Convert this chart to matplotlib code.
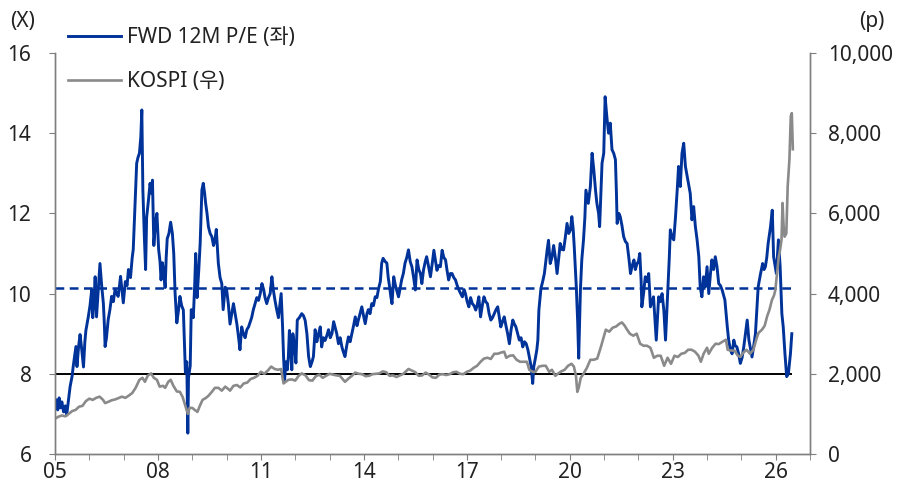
import matplotlib
matplotlib.use('Agg')
import matplotlib.pyplot as plt
from matplotlib.ticker import FixedLocator, FuncFormatter

plt.rcParams['font.family'] = ['Noto Sans', 'Noto Sans CJK KR', 'DejaVu Sans']

# FWD 12M P/E (decimal year, multiple)
pe_years = [
    2005.00, 2005.04, 2005.08, 2005.12, 2005.16, 2005.20, 2005.25, 2005.30, 2005.34, 2005.40,
    2005.44, 2005.50, 2005.53, 2005.58, 2005.61, 2005.64, 2005.69, 2005.73, 2005.78, 2005.83,
    2005.87, 2005.90, 2005.97, 2006.02, 2006.07, 2006.10, 2006.14, 2006.17, 2006.21, 2006.26,
    2006.31, 2006.36, 2006.41, 2006.44, 2006.46, 2006.50, 2006.55, 2006.60, 2006.65, 2006.70,
    2006.75, 2006.80, 2006.84, 2006.88, 2006.91, 2006.95, 2006.99, 2007.05, 2007.10, 2007.14,
    2007.20, 2007.25, 2007.28, 2007.33, 2007.38, 2007.42, 2007.46, 2007.50, 2007.53, 2007.56,
    2007.60, 2007.64, 2007.67, 2007.72, 2007.77, 2007.81, 2007.84, 2007.88, 2007.93, 2007.97,
    2008.02, 2008.06, 2008.09, 2008.13, 2008.17, 2008.21, 2008.24, 2008.27, 2008.32, 2008.37,
    2008.42, 2008.46, 2008.50, 2008.55, 2008.60, 2008.64, 2008.69, 2008.74, 2008.78, 2008.80,
    2008.84, 2008.87, 2008.89, 2008.94, 2008.97, 2009.03, 2009.07, 2009.10, 2009.14, 2009.19,
    2009.23, 2009.28, 2009.32, 2009.36, 2009.39, 2009.43, 2009.47, 2009.52, 2009.57, 2009.62,
    2009.66, 2009.70, 2009.76, 2009.81, 2009.86, 2009.90, 2009.96, 2010.00, 2010.05, 2010.10,
    2010.15, 2010.20, 2010.25, 2010.30, 2010.35, 2010.39, 2010.44, 2010.49, 2010.54, 2010.59,
    2010.64, 2010.69, 2010.73, 2010.78, 2010.83, 2010.88, 2010.93, 2010.98, 2011.03, 2011.08,
    2011.12, 2011.17, 2011.22, 2011.27, 2011.32, 2011.36, 2011.41, 2011.46, 2011.51, 2011.55,
    2011.59, 2011.63, 2011.66, 2011.69, 2011.73, 2011.77, 2011.80, 2011.83, 2011.87, 2011.90,
    2011.93, 2011.98, 2012.02, 2012.06, 2012.12, 2012.19, 2012.24, 2012.29, 2012.34, 2012.39,
    2012.44, 2012.49, 2012.53, 2012.58, 2012.63, 2012.68, 2012.73, 2012.77, 2012.82, 2012.87,
    2012.92, 2012.97, 2013.02, 2013.07, 2013.12, 2013.16, 2013.21, 2013.26, 2013.31, 2013.36,
    2013.40, 2013.45, 2013.50, 2013.55, 2013.60, 2013.65, 2013.70, 2013.75, 2013.80, 2013.84,
    2013.89, 2013.94, 2013.99, 2014.04, 2014.09, 2014.13, 2014.18, 2014.23, 2014.28, 2014.33,
    2014.38, 2014.43, 2014.48, 2014.52, 2014.56, 2014.62, 2014.67, 2014.71, 2014.75, 2014.79,
    2014.82, 2014.87, 2014.92, 2015.01, 2015.05, 2015.10, 2015.15, 2015.20, 2015.25, 2015.30,
    2015.35, 2015.40, 2015.45, 2015.50, 2015.55, 2015.60, 2015.65, 2015.69, 2015.74, 2015.79,
    2015.83, 2015.88, 2015.94, 2016.00, 2016.04, 2016.09, 2016.13, 2016.18, 2016.23, 2016.28,
    2016.33, 2016.38, 2016.42, 2016.47, 2016.52, 2016.57, 2016.62, 2016.67, 2016.72, 2016.77,
    2016.82, 2016.87, 2016.92, 2016.96, 2017.01, 2017.06, 2017.11, 2017.16, 2017.21, 2017.26,
    2017.30, 2017.35, 2017.40, 2017.45, 2017.50, 2017.55, 2017.60, 2017.65, 2017.70, 2017.75,
    2017.80, 2017.85, 2017.90, 2017.95, 2017.99, 2018.04, 2018.09, 2018.14, 2018.19, 2018.24,
    2018.29, 2018.34, 2018.38, 2018.43, 2018.48, 2018.53, 2018.58, 2018.63, 2018.68, 2018.73,
    2018.78, 2018.82, 2018.87, 2018.92, 2018.95, 2019.00, 2019.04, 2019.07, 2019.10, 2019.16,
    2019.21, 2019.26, 2019.30, 2019.34, 2019.38, 2019.43, 2019.48, 2019.53, 2019.58, 2019.63,
    2019.68, 2019.72, 2019.77, 2019.82, 2019.87, 2019.92, 2019.97, 2020.02, 2020.06, 2020.10,
    2020.13, 2020.19, 2020.23, 2020.26, 2020.31, 2020.35, 2020.40, 2020.44, 2020.47, 2020.54,
    2020.60, 2020.65, 2020.70, 2020.75, 2020.79, 2020.84, 2020.87, 2020.92, 2020.94, 2020.99,
    2021.03, 2021.08, 2021.13, 2021.18, 2021.23, 2021.28, 2021.33, 2021.36, 2021.38, 2021.43,
    2021.47, 2021.52, 2021.57, 2021.62, 2021.67, 2021.72, 2021.77, 2021.82, 2021.87, 2021.91,
    2021.96, 2022.00, 2022.04, 2022.08, 2022.10, 2022.15, 2022.20, 2022.25, 2022.30, 2022.35,
    2022.40, 2022.44, 2022.48, 2022.52, 2022.55, 2022.59, 2022.64, 2022.69, 2022.74, 2022.79,
    2022.82, 2022.86, 2022.90, 2022.93, 2022.98, 2023.03, 2023.08, 2023.13, 2023.17, 2023.22,
    2023.27, 2023.32, 2023.37, 2023.44, 2023.51, 2023.56, 2023.61, 2023.66, 2023.71, 2023.76,
    2023.80, 2023.85, 2023.90, 2023.95, 2024.00, 2024.05, 2024.10, 2024.14, 2024.19, 2024.24,
    2024.29, 2024.34, 2024.39, 2024.44, 2024.52, 2024.59, 2024.63, 2024.68, 2024.73, 2024.78,
    2024.82, 2024.87, 2024.92, 2024.97, 2025.02, 2025.07, 2025.12, 2025.17, 2025.22, 2025.27,
    2025.31, 2025.36, 2025.41, 2025.45, 2025.49, 2025.56, 2025.62, 2025.66, 2025.70, 2025.74,
    2025.78, 2025.85, 2025.90, 2025.94, 2026.02, 2026.08, 2026.13, 2026.18, 2026.22, 2026.27,
    2026.32, 2026.37, 2026.43, 2026.47,
]
pe_values = [
    7.25, 7.35, 7.10, 7.40, 7.15, 7.30, 7.05, 7.20, 6.97, 7.40,
    7.68, 7.95, 8.18, 8.50, 8.68, 8.18, 8.70, 8.98, 8.60, 8.17,
    8.80, 9.08, 9.42, 9.70, 10.10, 9.40, 9.90, 10.42, 9.42, 10.10,
    10.75, 10.20, 9.75, 9.20, 8.68, 8.90, 9.35, 9.60, 9.93, 9.80,
    10.10, 10.00, 9.93, 10.20, 10.43, 10.10, 9.77, 10.30, 10.20, 10.60,
    10.40, 10.90, 11.10, 12.20, 13.25, 13.40, 13.50, 13.90, 14.58, 12.60,
    11.50, 10.60, 11.90, 12.30, 12.75, 12.50, 12.83, 11.20, 11.80, 12.00,
    11.10, 10.80, 10.34, 10.77, 10.50, 10.15, 10.90, 11.37, 11.50, 11.78,
    11.50, 11.00, 10.00, 9.27, 9.60, 9.93, 9.70, 9.59, 8.60, 8.03,
    8.30, 6.52, 7.90, 8.20, 9.60, 9.40, 10.20, 11.00, 9.90, 10.60,
    11.25, 12.58, 12.75, 12.50, 12.25, 12.00, 11.67, 11.50, 11.42, 11.20,
    11.33, 11.60, 10.75, 10.40, 10.25, 9.60, 10.16, 10.10, 9.75, 9.24,
    9.50, 9.75, 9.50, 9.24, 8.90, 8.60, 9.17, 9.00, 8.90, 9.10,
    9.17, 9.30, 9.40, 9.60, 9.75, 9.90, 9.83, 10.00, 10.25, 10.10,
    9.90, 9.75, 9.90, 10.00, 10.42, 10.10, 9.83, 9.60, 9.40, 9.70,
    10.00, 9.20, 8.43, 7.85, 8.30, 8.10, 8.43, 9.08, 8.60, 8.10,
    9.00, 8.70, 8.27, 9.34, 9.40, 9.50, 9.45, 9.33, 9.00, 8.43,
    8.18, 8.30, 8.43, 9.10, 8.80, 9.00, 9.17, 8.67, 8.90, 8.83,
    8.95, 9.10, 8.90, 9.00, 9.30, 9.17, 9.00, 8.75, 8.90, 8.67,
    8.55, 8.43, 8.70, 8.92, 8.80, 9.00, 9.20, 9.42, 9.20, 9.34,
    9.50, 9.67, 9.45, 9.25, 9.50, 9.60, 9.50, 9.75, 9.70, 9.92,
    9.90, 10.13, 10.30, 10.76, 10.88, 10.80, 10.76, 10.40, 10.17, 9.90,
    9.75, 10.42, 10.20, 9.92, 10.10, 10.34, 10.50, 10.76, 10.90, 11.09,
    10.80, 10.67, 10.40, 10.09, 10.84, 10.60, 10.50, 10.25, 10.60, 10.80,
    10.92, 10.70, 10.42, 10.80, 11.08, 10.80, 10.58, 10.70, 10.67, 11.08,
    10.90, 10.84, 10.60, 10.34, 10.50, 10.50, 10.40, 10.34, 10.20, 10.09,
    10.00, 9.92, 10.10, 10.00, 9.80, 9.67, 9.90, 9.75, 9.70, 9.59,
    9.70, 9.92, 9.42, 9.70, 9.92, 9.80, 9.75, 9.50, 9.34, 9.40,
    9.50, 9.60, 9.67, 9.40, 9.17, 9.30, 9.42, 9.20, 9.00, 8.75,
    9.10, 9.34, 9.25, 9.17, 9.00, 8.84, 8.90, 8.67, 8.80, 8.75,
    8.60, 8.42, 8.20, 7.76, 8.17, 8.40, 8.60, 8.84, 9.59, 10.13,
    10.30, 10.50, 10.80, 11.08, 11.33, 10.75, 10.90, 11.20, 10.90, 10.50,
    10.90, 11.25, 11.10, 11.09, 11.40, 11.75, 11.50, 11.59, 11.92, 11.60,
    11.17, 10.17, 9.30, 8.39, 10.09, 10.84, 11.34, 11.90, 12.58, 12.25,
    12.67, 13.50, 13.09, 12.58, 12.25, 12.00, 11.67, 12.80, 13.25, 13.50,
    14.91, 14.41, 14.00, 14.25, 13.59, 13.50, 13.34, 12.50, 11.75, 12.00,
    11.92, 11.70, 11.42, 11.30, 11.25, 10.90, 10.50, 10.70, 10.84, 10.60,
    10.75, 10.80, 11.00, 10.30, 9.67, 10.00, 10.42, 10.30, 10.50, 9.67,
    9.80, 9.92, 9.40, 8.84, 9.30, 9.92, 9.80, 10.00, 9.60, 8.84,
    9.40, 10.09, 10.90, 11.59, 11.40, 11.34, 11.90, 12.58, 13.17, 12.67,
    13.50, 13.75, 13.17, 12.84, 12.50, 11.84, 12.17, 11.67, 11.34, 10.92,
    10.17, 9.92, 10.42, 10.17, 10.67, 10.00, 10.50, 10.84, 10.60, 10.92,
    10.67, 10.25, 10.20, 10.09, 9.84, 9.17, 8.84, 8.60, 8.50, 8.84,
    8.70, 8.67, 8.50, 8.26, 8.40, 8.67, 9.00, 9.34, 8.84, 8.60,
    8.42, 8.70, 9.00, 9.60, 10.17, 10.50, 10.75, 10.60, 10.67, 10.90,
    11.25, 11.67, 12.08, 10.92, 10.50, 11.34, 10.67, 9.50, 9.17, 8.50,
    7.93, 8.00, 8.50, 9.00,
]

# KOSPI (decimal year, points)
kospi_years = [
    2005.00, 2005.10, 2005.20, 2005.30, 2005.40, 2005.50, 2005.60, 2005.70, 2005.80, 2005.90,
    2006.00, 2006.10, 2006.20, 2006.30, 2006.40, 2006.46, 2006.55, 2006.65, 2006.75, 2006.84,
    2006.95, 2007.05, 2007.14, 2007.25, 2007.35, 2007.46, 2007.55, 2007.62, 2007.70, 2007.80,
    2007.88, 2007.97, 2008.05, 2008.15, 2008.21, 2008.30, 2008.37, 2008.45, 2008.55, 2008.64,
    2008.72, 2008.80, 2008.87, 2008.92, 2009.00, 2009.07, 2009.15, 2009.22, 2009.30, 2009.40,
    2009.47, 2009.57, 2009.66, 2009.76, 2009.86, 2009.96, 2010.05, 2010.10, 2010.20, 2010.30,
    2010.40, 2010.50, 2010.60, 2010.70, 2010.80, 2010.90, 2011.00, 2011.10, 2011.20, 2011.30,
    2011.40, 2011.50, 2011.59, 2011.63, 2011.66, 2011.72, 2011.80, 2011.90, 2012.00, 2012.10,
    2012.19, 2012.30, 2012.40, 2012.50, 2012.60, 2012.70, 2012.80, 2012.90, 2013.00, 2013.10,
    2013.20, 2013.30, 2013.45, 2013.55, 2013.65, 2013.75, 2013.85, 2013.95, 2014.05, 2014.15,
    2014.25, 2014.35, 2014.45, 2014.55, 2014.65, 2014.75, 2014.85, 2014.95, 2015.05, 2015.15,
    2015.30, 2015.40, 2015.50, 2015.60, 2015.70, 2015.80, 2015.90, 2016.00, 2016.10, 2016.20,
    2016.30, 2016.40, 2016.50, 2016.60, 2016.70, 2016.80, 2016.90, 2017.00, 2017.10, 2017.20,
    2017.30, 2017.40, 2017.50, 2017.60, 2017.70, 2017.80, 2017.90, 2018.00, 2018.09, 2018.15,
    2018.25, 2018.35, 2018.45, 2018.55, 2018.65, 2018.75, 2018.82, 2018.92, 2019.00, 2019.10,
    2019.21, 2019.30, 2019.40, 2019.48, 2019.58, 2019.65, 2019.75, 2019.85, 2019.95, 2020.05,
    2020.12, 2020.18, 2020.22, 2020.26, 2020.32, 2020.40, 2020.50, 2020.60, 2020.70, 2020.80,
    2020.90, 2021.00, 2021.05, 2021.15, 2021.25, 2021.35, 2021.45, 2021.52, 2021.60, 2021.67,
    2021.75, 2021.85, 2021.95, 2022.05, 2022.15, 2022.25, 2022.35, 2022.45, 2022.55, 2022.65,
    2022.75, 2022.85, 2022.95, 2023.05, 2023.15, 2023.25, 2023.35, 2023.45, 2023.55, 2023.65,
    2023.75, 2023.82, 2023.90, 2024.00, 2024.05, 2024.15, 2024.25, 2024.34, 2024.45, 2024.55,
    2024.60, 2024.70, 2024.80, 2024.90, 2024.97, 2025.05, 2025.15, 2025.25, 2025.35, 2025.45,
    2025.50, 2025.60, 2025.68, 2025.75, 2025.82, 2025.89, 2025.95, 2025.99, 2026.04, 2026.09,
    2026.13, 2026.17, 2026.20, 2026.23, 2026.26, 2026.31, 2026.35, 2026.40, 2026.44, 2026.47,
    2026.50,
]
kospi_values = [
    880, 930, 960, 940, 1000, 1070, 1100, 1180, 1200, 1320,
    1380, 1350, 1400, 1430, 1350, 1270, 1300, 1340, 1360, 1390,
    1430, 1400, 1450, 1520, 1650, 1850, 1900, 1800, 1950, 2010,
    1900, 1850, 1680, 1700, 1650, 1800, 1850, 1700, 1560, 1550,
    1420, 1200, 1000, 1150, 1150, 1100, 1050, 1200, 1350, 1400,
    1450, 1550, 1650, 1650, 1580, 1680, 1620, 1580, 1700, 1720,
    1660, 1760, 1780, 1870, 1900, 1950, 2050, 2000, 2080, 2180,
    2120, 2100, 2120, 1900, 1760, 1800, 1850, 1860, 1830, 1950,
    2010, 1960, 1840, 1830, 1940, 1980, 1900, 1950, 2000, 1980,
    1960, 1950, 1800, 1880, 1950, 2030, 2000, 1990, 1940, 1950,
    1990, 2000, 2010, 2060, 2040, 1950, 1960, 1920, 1960, 2000,
    2120, 2080, 2040, 1950, 1960, 2030, 1980, 1910, 1900, 1980,
    1990, 1970, 1990, 2040, 2050, 2000, 1990, 2050, 2080, 2150,
    2200, 2300, 2380, 2400, 2370, 2500, 2500, 2530, 2550, 2400,
    2450, 2460, 2350, 2300, 2300, 2300, 2100, 2050, 2050, 2180,
    2200, 2200, 2050, 2100, 1950, 2000, 2060, 2100, 2200, 2250,
    2180, 1950, 1550, 1650, 1900, 2000, 2150, 2350, 2350, 2380,
    2650, 2950, 3100, 3050, 3150, 3180, 3250, 3280, 3200, 3100,
    3000, 2950, 3000, 2750, 2700, 2700, 2650, 2400, 2450, 2450,
    2200, 2400, 2250, 2450, 2420, 2500, 2520, 2600, 2600, 2550,
    2450, 2300, 2500, 2650, 2500, 2650, 2750, 2740, 2800, 2850,
    2600, 2580, 2580, 2450, 2420, 2520, 2600, 2500, 2600, 2900,
    3020, 3100, 3200, 3430, 3600, 3840, 3950, 4090, 4500, 4920,
    5100, 5340, 6260, 5700, 5420, 5500, 6680, 7340, 8420, 8500,
    7600,
]

pe_average = 10.13
pe_floor = 8.0
line_end = 2026.47

blue = '#003399'
grey = '#8a8a8a'
axis_grey = '#7f7f7f'
text_color = '#222222'
fs = 15

fig = plt.figure(figsize=(9.01, 4.92), dpi=100)
ax = fig.add_axes([55 / 901, 38 / 492, 755 / 901, 401 / 492])
ax2 = ax.twinx()

ax.hlines(pe_floor, 2005, line_end, color='black', lw=1.4, zorder=1)
ax.hlines(pe_average, 2005, line_end, color=blue, lw=1.8, linestyles=(0, (3.5, 2.2)), zorder=1)
l1, = ax.plot(pe_years, pe_values, color=blue, lw=2.1, zorder=3, label='FWD 12M P/E (좌)')
l2, = ax2.plot(kospi_years, kospi_values, color=grey, lw=1.9, label='KOSPI (우)')

ax.set_xlim(2005, 2027)
ax.set_ylim(6, 16)
ax2.set_ylim(0, 10000)

ax.xaxis.set_major_locator(FixedLocator(list(range(2005, 2027, 3))))
ax.xaxis.set_minor_locator(FixedLocator(list(range(2005, 2028))))
ax.xaxis.set_major_formatter(FuncFormatter(lambda v, p: '%02d' % (int(round(v)) % 100)))
ax.set_yticks([6, 8, 10, 12, 14, 16])
ax2.set_yticks([0, 2000, 4000, 6000, 8000, 10000])
ax2.yaxis.set_major_formatter(FuncFormatter(lambda v, p: f'{int(v):,}'))

for a in (ax, ax2):
    for s in a.spines.values():
        s.set_color(axis_grey)
        s.set_linewidth(1.0)
    a.spines['top'].set_visible(False)

ax.tick_params(axis='x', which='both', direction='out', length=4, color=axis_grey,
               labelsize=fs, labelcolor=text_color, pad=2)
ax.tick_params(axis='y', direction='out', length=4, color=axis_grey, labelsize=fs,
               labelcolor=text_color, pad=13)
ax2.tick_params(axis='y', direction='out', length=4, color=axis_grey, labelsize=fs,
                labelcolor=text_color, pad=9)

fig.text(23 / 901, 1 - 22 / 492, '(X)', ha='center', va='center', fontsize=fs, color=text_color)
fig.text(872 / 901, 1 - 22 / 492, '(p)', ha='center', va='center', fontsize=fs, color=text_color)

leg = fig.legend(handles=[l1, l2], loc='upper left', bbox_to_anchor=(68 / 901, 1 - 27 / 492),
                 frameon=False, fontsize=fs, handlelength=2.55, handletextpad=0.3,
                 labelspacing=1.12, borderpad=0, borderaxespad=0)
for t in leg.get_texts():
    t.set_color(text_color)

fig.savefig('out.png', dpi=100)
